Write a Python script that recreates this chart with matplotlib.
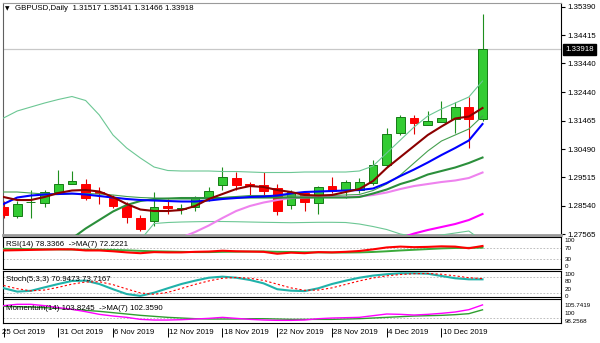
import numpy as np
import matplotlib
matplotlib.use("Agg")
import matplotlib.pyplot as plt
import matplotlib.transforms as mtransforms

plt.rcParams['font.family'] = ['Liberation Sans', 'DejaVu Sans']
FS = 5.7
FS_SUB = 4.5
nan = np.nan

symbol = "GBPUSD,Daily"
date_labels = ["25 Oct 2019", "31 Oct 2019", "6 Nov 2019", "12 Nov 2019", "18 Nov 2019",
               "22 Nov 2019", "28 Nov 2019", "4 Dec 2019", "10 Dec 2019"]
date_label_bars = [0, 4, 8, 12, 16, 20, 24, 28, 32]

opens = [1.28494, 1.28202, 1.28667, 1.28649, 1.29028, 1.29303, 1.29286, 1.29028, 1.28821, 1.28546,
         1.28105, 1.28030, 1.28546, 1.28426, 1.28505, 1.28821, 1.29235, 1.29493, 1.29303, 1.29235,
         1.29138, 1.28574, 1.28976, 1.28642, 1.29228, 1.29080, 1.29080, 1.29321, 1.29957, 1.31031,
         1.31568, 1.31334, 1.31431, 1.31524, 1.31926, 1.31517]
highs = [1.28701, 1.28701, 1.29080, 1.29097, 1.29768, 1.29751, 1.29458, 1.29183, 1.28908, 1.28677,
         1.28219, 1.28994, 1.28753, 1.28615, 1.28890, 1.29183, 1.29871, 1.29710, 1.29365, 1.29710,
         1.29303, 1.29080, 1.29062, 1.29217, 1.29544, 1.29424, 1.29482, 1.30112, 1.31197, 1.31661,
         1.31661, 1.31799, 1.32143, 1.32126, 1.32281, 1.35141]
lows = [1.28116, 1.28099, 1.28105, 1.28494, 1.28976, 1.29286, 1.28735, 1.28598, 1.28460, 1.27961,
        1.27668, 1.27840, 1.28254, 1.28254, 1.28340, 1.28701, 1.29080, 1.29090, 1.28908, 1.28908,
        1.28219, 1.28436, 1.28340, 1.28271, 1.28966, 1.28804, 1.28976, 1.29252, 1.29882, 1.30973,
        1.31007, 1.31317, 1.31420, 1.31059, 1.30515, 1.31466]
closes = [1.28219, 1.28587, 1.28684, 1.29028, 1.29286, 1.29389, 1.28804, 1.28976, 1.28529, 1.28161,
          1.27754, 1.28512, 1.28460, 1.28477, 1.28821, 1.29045, 1.29537, 1.29269, 1.29235, 1.29062,
          1.28340, 1.29011, 1.28677, 1.29193, 1.29062, 1.29355, 1.29372, 1.29940, 1.31018, 1.31582,
          1.31376, 1.31444, 1.31548, 1.31954, 1.31517, 1.33918]

ma_maroon = [1.28839, 1.28735, 1.28735, 1.28839, 1.28976, 1.29062, 1.29080, 1.29028, 1.28839, 1.28598,
             1.28408, 1.28357, 1.28357, 1.28391, 1.28529, 1.28770, 1.28942, 1.29114, 1.29217, 1.29183,
             1.29080, 1.29011, 1.28908, 1.28890, 1.28908, 1.29011, 1.29114, 1.29389, 1.29837, 1.30216,
             1.30594, 1.30973, 1.31266, 1.31541, 1.31610, 1.31902]
ma_blue = [1.28598, 1.28821, 1.28890, 1.28925, 1.28942, 1.28959, 1.28925, 1.28873, 1.28821, 1.28770,
           1.28735, 1.28718, 1.28701, 1.28684, 1.28684, 1.28718, 1.28770, 1.28804, 1.28839, 1.28856,
           1.28890, 1.28959, 1.29011, 1.29028, 1.29045, 1.29062, 1.29080, 1.29131, 1.29321, 1.29562,
           1.29785, 1.30026, 1.30284, 1.30525, 1.30784, 1.31352]
ma_thin = [1.29011, 1.29011, 1.28976, 1.28942, 1.28925, 1.28942, 1.28959, 1.28942, 1.28908, 1.28856,
           1.28821, 1.28804, 1.28787, 1.28770, 1.28770, 1.28787, 1.28821, 1.28856, 1.28890, 1.28890,
           1.28890, 1.28873, 1.28873, 1.28890, 1.28890, 1.28908, 1.28925, 1.29062, 1.29286, 1.29596,
           1.30009, 1.30422, 1.30766, 1.30973, 1.31179, 1.31627]
ma_dkgreen = [nan, nan, nan, nan, nan, 1.27410, 1.27754, 1.28047, 1.28340, 1.28563,
              1.28701, 1.28770, 1.28787, 1.28804, 1.28804, 1.28804, 1.28804, 1.28821, 1.28821, 1.28821,
              1.28821, 1.28821, 1.28821, 1.28821, 1.28821, 1.28821, 1.28839, 1.28959, 1.29097, 1.29286,
              1.29424, 1.29613, 1.29734, 1.29854, 1.30009, 1.30198]
bb_upper = [1.31558, 1.31799, 1.31937, 1.32074, 1.32195, 1.32298, 1.32161, 1.31661, 1.30973, 1.30525,
            1.30181, 1.29871, 1.29751, 1.29734, 1.29734, 1.29734, 1.29716, 1.29716, 1.29699, 1.29682,
            1.29682, 1.29682, 1.29699, 1.29699, 1.29699, 1.29699, 1.29734, 1.29906, 1.30353, 1.30801,
            1.31248, 1.31627, 1.31868, 1.32074, 1.32281, 1.32832]
bb_lower = [nan, nan, nan, nan, nan, nan, nan, nan, nan, nan,
            1.27358, 1.27926, 1.27961, 1.27978, 1.27988, 1.27995, 1.27995, 1.27988, 1.27978, 1.27968,
            1.27961, 1.27954, 1.27961, 1.27968, 1.27968, 1.27961, 1.27909, 1.27823, 1.27720, 1.27565,
            1.27479, 1.27479, 1.27531, 1.27599, 1.27668, 1.27324]
ma_violet = [nan, nan, nan, nan, nan, nan, nan, nan, nan, nan,
             nan, nan, 1.27221, 1.27445, 1.27634, 1.27858, 1.28116, 1.28357, 1.28529, 1.28649,
             1.28735, 1.28804, 1.28821, 1.28839, 1.28839, 1.28839, 1.28856, 1.28908, 1.28994, 1.29114,
             1.29217, 1.29286, 1.29355, 1.29407, 1.29493, 1.29682]
ma_magenta = [nan] * 29 + [1.27427, 1.27582, 1.27703, 1.27806, 1.27909, 1.28047, 1.28254]

price_ticks = [1.35390, 1.34415, 1.33440, 1.32440, 1.31465, 1.30490, 1.29515, 1.28540, 1.27565]

rsi = [62, 63, 64, 65, 66, 66, 62, 62, 59, 55, 52, 56, 55, 55, 57, 58, 61, 59, 58, 57,
       50, 54, 52, 56, 55, 57, 60, 66, 73, 76, 74, 75, 77, 76, 70, 78.3366]
rsi_ma = [68, 67.5, 67, 66.5, 66, 65.5, 65, 64.5, 64, 62.5, 60.5, 59, 58, 57, 56, 56, 57, 57.5, 58, 58.5,
          57, 56.5, 55.5, 55, 54.5, 54.5, 55, 56.5, 59, 62, 64.5, 67, 69.5, 71, 71.5, 72.2221]
rsi_levels = [100, 70, 30, 0]
stoch_k = [38, 25, 28, 41, 53.5, 65, 66, 53.5, 34, 16, 9, 21, 37.5, 53.5, 66, 77, 81, 77, 68.6, 56,
           34, 28.5, 27, 37.5, 53.5, 66, 77, 85, 90, 93.6, 93.6, 92, 83.5, 75, 71, 70.9473]
stoch_d = [48, 36, 28, 31, 41, 53, 61, 62, 51, 35, 20, 15, 22, 37, 52, 65, 75, 78, 75, 67,
           53, 39, 30, 31, 39, 52, 65, 76, 84, 89, 92, 93, 90, 84, 77, 73.7167]
stoch_levels = [100, 80, 20, 0]
mom = [103.6, 104.0, 104.0, 103.6, 103.0, 102.5, 101.8, 101.0, 100.5, 100.1, 99.5, 99.3, 99.3, 99.4,
       99.6, 99.8, 100.1, 99.8, 99.5, 99.3, 99.2, 99.2, 99.3, 99.7, 99.9, 100.0, 100.1, 100.6, 101.1,
       101.0, 100.8, 101.0, 101.3, 101.7, 102.4, 103.8245]
mom_ma = [103.4, 103.3, 103.2, 103.0, 102.8, 102.5, 102.2, 101.9, 101.5, 101.1, 100.7, 100.4, 100.1,
          99.9, 99.7, 99.6, 99.6, 99.6, 99.7, 99.7, 99.6, 99.5, 99.5, 99.5, 99.5, 99.6, 99.7, 99.9,
          100.1, 100.3, 100.5, 100.6, 100.7, 100.9, 101.2, 102.359]
mom_max, mom_min = 105.7419, 98.2568

# ---------------------------------------------------------------- layout
W, H = 600, 343
fig = plt.figure(figsize=(W / 100, H / 100), dpi=100)
fig.patch.set_facecolor('white')
L, R = 3, 561


def panel(top, bottom):
    return fig.add_axes([L / W, 1 - bottom / H, (R - L) / W, (bottom - top) / H])


ax = panel(3, 235)
ax_rsi = panel(237, 269)
ax_sto = panel(270.5, 297)
ax_mom = panel(298.5, 323)

x = np.arange(len(closes))
o = np.array(opens); c = np.array(closes); hi = np.array(highs); lo = np.array(lows)
XL = (-0.037, 40.735)
for a in (ax, ax_rsi, ax_sto, ax_mom):
    a.set_xlim(*XL)
    a.set_xticks([])
    a.set_yticks([])
    for s in a.spines.values():
        s.set_color('black')
        s.set_linewidth(0.8)

# ---------------------------------------------------------------- main chart
ax.set_ylim(1.27531, 1.35517)
ax.spines['top'].set_color('#9a9a9a')
ax.spines['left'].set_color('#606060')
ax.spines['bottom'].set_color('#9a9a9a')
ax.spines['bottom'].set_linewidth(2.0)

ax.axhline(closes[-1], color='#c8c8c8', lw=0.9, zorder=1)

bull = c >= o
wick_col = np.where(bull, '#1e8f1e', '#e00000')
ax.vlines(x, lo, hi, colors=wick_col, lw=0.8, zorder=2)
body_h = np.maximum(np.abs(c - o), 0.00004)
ax.bar(x, body_h, bottom=np.minimum(o, c), width=0.64,
       color=np.where(bull, '#33cc33', '#ff0000'),
       edgecolor=np.where(bull, '#157a15', '#ff0000'), linewidth=0.7, zorder=3)

ax.plot(x, bb_upper, color='#6cc794', lw=0.8, zorder=4)
ax.plot(x, bb_lower, color='#6cc794', lw=0.8, zorder=4)
ax.plot(x, ma_thin, color='#45a04f', lw=0.8, zorder=4)
ax.plot(x, ma_magenta, color='#ff00ff', lw=1.5, zorder=5)
ax.plot(x, ma_violet, color='#ee82ee', lw=1.5, zorder=5)
ax.plot(x, ma_dkgreen, color='#2b8f3b', lw=1.5, zorder=5)
ax.plot(x, ma_blue, color='#0000ff', lw=1.5, zorder=6)
ax.plot(x, ma_maroon, color='#8b0000', lw=1.5, zorder=7)

ax.yaxis.tick_right()
ax.set_yticks(price_ticks)
ax.set_yticklabels([f"{v:.5f}" for v in price_ticks])
ax.tick_params(axis='y', direction='out', length=3, width=0.8, pad=1.5, labelsize=FS, colors='black')

ax.text(1.0, closes[-1], f"{closes[-1]:.5f}",
        transform=mtransforms.offset_copy(ax.get_yaxis_transform(), fig=fig, x=4, y=0, units='dots'),
        ha='left', va='center', fontsize=FS, color='white', clip_on=False, zorder=10,
        bbox=dict(boxstyle='square,pad=0.25', fc='black', ec='black'))

fig.text(5 / W, 1 - 9 / H, "\u25bc", fontsize=4.2, family='DejaVu Sans', va='center', ha='left')
fig.text(15 / W, 1 - 9 / H,
         f"{symbol}  {opens[-1]:.5f} {highs[-1]:.5f} {lows[-1]:.5f} {closes[-1]:.5f}",
         fontsize=FS, va='center', ha='left', color='black')


def rlabel(a, ypix, s):
    # right-margin label placed at a pixel row of the figure
    tr = mtransforms.blended_transform_factory(a.transAxes, fig.transFigure)
    a.text(1.0, 1 - ypix / H, s,
           transform=mtransforms.offset_copy(tr, fig=fig, x=3.5, y=0, units='dots'),
           ha='left', va='center', fontsize=FS_SUB, clip_on=False)


def tlabel(a, s, dy):
    tr = mtransforms.offset_copy(a.transAxes, fig=fig, x=3.5, y=dy, units='dots')
    a.text(0, 1, s, transform=tr, ha='left', va='center', fontsize=FS, color='black', zorder=10)


def level(a, v):
    a.axhline(v, color='#b4b4b4', lw=0.6, dashes=(2, 2), zorder=1)


# ---------------------------------------------------------------- RSI
ax_rsi.set_ylim(-5.5, 111)
level(ax_rsi, 70)
level(ax_rsi, 30)
ax_rsi.plot(x, rsi_ma, color='#3aaa3a', lw=1.4, zorder=3)
ax_rsi.plot(x, rsi, color='#ff0000', lw=1.5, zorder=4)
tlabel(ax_rsi, f"RSI(14) {rsi[-1]:.4f}  ->MA(7) {rsi_ma[-1]:.4f}", -8)
for v, yp in zip(rsi_levels, [241.0, 248.3, 259.3, 266.5]):
    rlabel(ax_rsi, yp, f"{v}")

# ---------------------------------------------------------------- Stochastic
ax_sto.set_ylim(4.9, 104)
level(ax_sto, 80)
level(ax_sto, 20)
ax_sto.plot(x, stoch_k, color='#20b2aa', lw=1.5, zorder=3)
ax_sto.plot(x, stoch_d, color='#ff0000', lw=0.8, dashes=(2, 2), zorder=4)
tlabel(ax_sto, f"Stoch(5,3,3) {stoch_k[-1]:.4f} {stoch_d[-1]:.4f}", -8.8)
for v, yp in zip(stoch_levels, [274.0, 281.6, 289.5, 296.8]):
    rlabel(ax_sto, yp, f"{v}")

# ---------------------------------------------------------------- Momentum
ax_mom.set_ylim(98.41, mom_max)
level(ax_mom, 100)
ax_mom.plot(x, mom_ma, color='#2f9f2f', lw=1.0, zorder=3)
ax_mom.plot(x, mom, color='#ff00ff', lw=1.0, zorder=4)
tlabel(ax_mom, f"Momentum(14) {mom[-1]:.4f}  ->MA(7) {mom_ma[-1]:.4f}", -10.5)
rlabel(ax_mom, 305.5, f"{mom_max:.4f}")
rlabel(ax_mom, 313.5, "100")
rlabel(ax_mom, 321.3, f"{mom_min:.4f}")

# ---------------------------------------------------------------- dates
ax_mom.vlines(date_label_bars, -0.2, -0.57, transform=ax_mom.get_xaxis_transform(),
              colors='black', lw=0.7, clip_on=False)
for i, (b, s) in enumerate(zip(date_label_bars, date_labels)):
    xo = 1.5 if i > 0 else -1.5
    tr = mtransforms.offset_copy(ax_mom.get_xaxis_transform(), fig=fig, x=xo, y=-10, units='dots')
    ax_mom.text(b, 0, s, transform=tr, ha='left', va='center', fontsize=FS, color='black', clip_on=False)

fig.savefig("out.png", dpi=100, facecolor='white')
